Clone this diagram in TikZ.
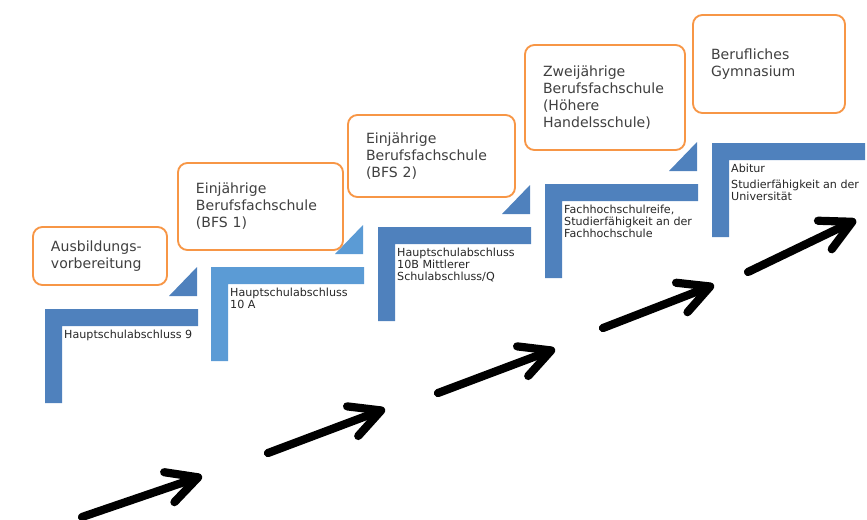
\documentclass[tikz,border=0pt]{standalone}
\usepackage{fontspec}
\setmainfont{DejaVu Sans}
\usetikzlibrary{arrows.meta}
\definecolor{stepdark}{HTML}{4F81BD}
\definecolor{steplight}{HTML}{5B9BD5}
\definecolor{boxorange}{HTML}{F79646}
\definecolor{textgray}{HTML}{404040}
\tikzset{
  school/.style={draw=boxorange, line width=1.6pt, rounded corners=8pt, fill=white,
    text=textgray, align=left, inner xsep=0.54cm, font=\fontsize{12}{14.5}\selectfont},
  degree/.style={anchor=north west, inner sep=0pt, align=left, text=black!85,
    font=\fontsize{9.5}{10.3}\selectfont},
  bigarrow/.style={line width=7pt, line cap=round,
    -{Straight Barb[length=26pt,width=27pt,round]}}
}
\begin{document}
\begin{tikzpicture}[x=0.03cm, y=-0.03cm]
    \useasboundingbox (0,0) rectangle (867,519);
    % stairs
    \foreach \x/\y/\c in {45/309/stepdark, 211/267/steplight, 378/227/stepdark, 545/184/stepdark, 712/143/stepdark}
        \fill[\c] (\x,\y+94) -- (\x,\y) -- (\x+153,\y) -- (\x+153,\y+17) -- (\x+17,\y+17) -- (\x+17,\y+94) -- cycle;
    \foreach \x/\y/\c in {45/309/stepdark, 211/267/steplight, 378/227/stepdark, 545/184/stepdark}
        \fill[\c] (\x+124,\y-13) -- (\x+152,\y-13) -- (\x+152,\y-42) -- cycle;
    % degrees
    \node[degree] (hsa9) at (64,330) {Hauptschulabschluss 9};
    \node[degree] (hsa10a) at (230,288) {Hauptschulabschluss\\10 A};
    \node[degree] (hsa10b) at (397,248) {Hauptschulabschluss\\10B Mittlerer\\Schulabschluss/Q};
    \node[degree] (fhr) at (564,205) {Fachhochschulreife,\\Studierfähigkeit an der\\Fachhochschule};
    \node[degree] (abi) at (731,164) {Abitur\\[3pt]Studierfähigkeit an der\\Universität};
    % schools
    \node[school, minimum width=4.02cm, minimum height=1.74cm, text width=2.94cm] (avb) at (100,256) {Ausbildungs-\\vorbereitung};
    \node[school, minimum width=4.95cm, minimum height=2.61cm, text width=3.87cm] (bfs1) at (260.5,206.5) {Einjährige\\Berufsfachschule\\(BFS 1)};
    \node[school, minimum width=5.01cm, minimum height=2.46cm, text width=3.93cm] (bfs2) at (431.5,156) {Einjährige\\Berufsfachschule\\(BFS 2)};
    \node[school, minimum width=4.8cm, minimum height=3.15cm, text width=3.72cm] (hhs) at (605,97.5) {Zweijährige\\Berufsfachschule\\(Höhere\\Handelsschule)};
    \node[school, minimum width=4.56cm, minimum height=2.94cm, text width=3.48cm] (bg) at (769,64) {Berufliches\\Gymnasium};
    % arrows
    \foreach \i/\a/\b/\c/\d in {1/82/517/202/476, 2/268/453/385/409, 3/438/393/555/349, 4/603/328/714/285, 5/748/272/856/220} {
        \coordinate (s\i) at (\a,\b);
        \coordinate (t\i) at (\c,\d);
        \draw[bigarrow] (s\i) -- (t\i);
    }
\end{tikzpicture}
\end{document}
